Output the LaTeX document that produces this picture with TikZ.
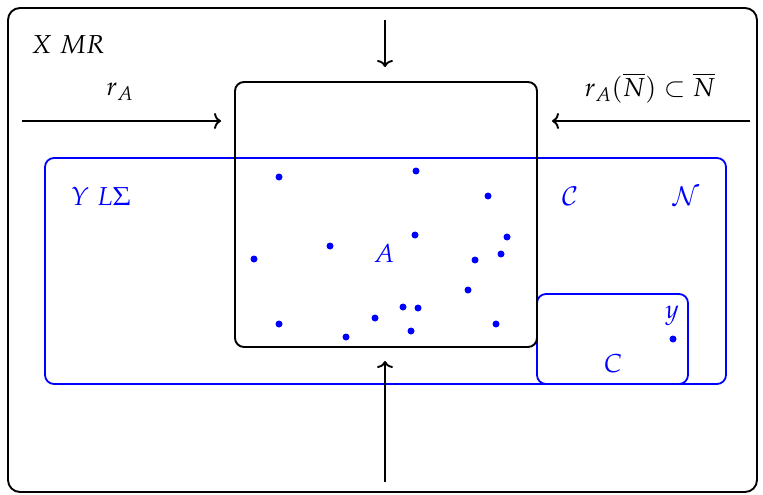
\documentclass[tikz,border=0pt]{standalone}
\usepackage{mathpazo}
\usetikzlibrary{arrows.meta}
\begin{document}
\begin{tikzpicture}[x=1pt,y=-1pt,
  blk/.style={draw=black,line width=1.9pt,rounded corners=9pt},
  blu/.style={draw=blue,line width=1.8pt,rounded corners=9pt},
  dotb/.style={circle,fill=blue,inner sep=0pt,minimum size=7pt},
  lbl/.style={font=\fontsize{26}{30}\selectfont,inner sep=0pt},
  arr/.style={line width=1.9pt,-{To[length=7pt,width=16pt]}}]
\useasboundingbox (0,0) rectangle (763,495);
\draw[blk,rounded corners=12pt] (8,8) rectangle (757,492);
\node[lbl] (xmr) at (68,45) {$X\ MR$};
\draw[blu] (45,158) rectangle (726,384);
\draw[blu] (537,294) rectangle (688,384);
\draw[blk] (235,82) rectangle (537,347);
\node[lbl,text=blue] (yls) at (101,196) {$Y\ L\Sigma$};
\node[lbl,text=blue] (calC) at (570,196) {$\mathcal{C}$};
\node[lbl,text=blue] (calN) at (686,196) {$\mathcal{N}$};
\node[lbl,text=blue] (A) at (384,253) {$A$};
\node[lbl,text=blue] (y) at (672,316) {$y$};
\node[lbl,text=blue] (C) at (613,364) {$C$};
\node[lbl] (ra) at (120,92) {$r_A$};
\node[lbl] (ran) at (650,88) {$r_A(\overline{N})\subset\overline{N}$};
\coordinate (t1) at (385,20); \coordinate (t2) at (385,67);
\coordinate (l1) at (22,121); \coordinate (l2) at (221,121);
\coordinate (r1) at (750,121); \coordinate (r2) at (552,121);
\coordinate (b1) at (385,482); \coordinate (b2) at (385,361);
\draw[arr] (t1) -- (t2);
\draw[arr] (l1) -- (l2);
\draw[arr] (r1) -- (r2);
\draw[arr] (b1) -- (b2);
\foreach \n/\p in {d1/{279,177},d2/{416,171},d3/{488,196},d4/{507,237},d5/{501,254},d6/{475,260},d7/{415,235},d8/{330,246},d9/{254,259},d10/{468,290},d11/{403,307},d12/{418,308},d13/{375,318},d14/{411,331},d15/{279,324},d16/{346,337},d17/{496,324},d18/{673,339}}
  \node[dotb] (\n) at (\p) {};
\end{tikzpicture}
\end{document}
